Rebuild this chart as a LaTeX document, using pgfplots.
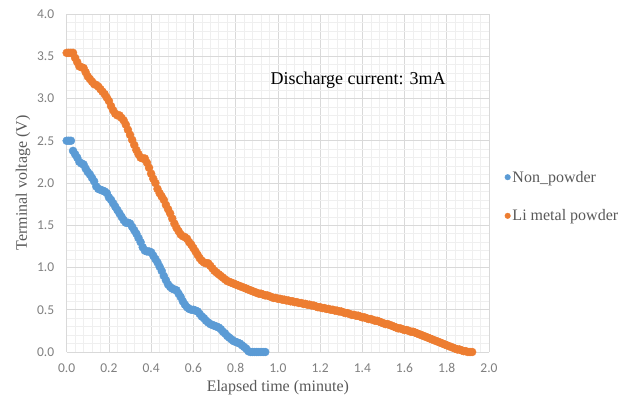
\documentclass[border=0pt]{standalone}
\usepackage{pgfplots}
\pgfplotsset{compat=1.18}
\usepackage{fontspec}
\setmainfont{Liberation Serif}
\newfontfamily\tickfont{Carlito}
\definecolor{cblue}{HTML}{5B9BD5}
\definecolor{corange}{HTML}{ED7D31}
\definecolor{tickgray}{HTML}{7F7F7F}
\definecolor{labgray}{HTML}{595959}
\definecolor{majgrid}{HTML}{D9D9D9}
\definecolor{mingrid}{HTML}{EFEFEF}
\begin{document}
\begin{tikzpicture}
\useasboundingbox (-66.7pt,-46pt) rectangle (561.3pt,352pt);
\begin{axis}[
  scale only axis,
  width=422.3pt, height=338pt,
  xmin=0, xmax=2, ymin=0, ymax=4,
  xtick={0,0.2,...,2.0}, ytick={0,0.5,...,4.0},
  minor x tick num=4, minor y tick num=4,
  grid=both,
  major grid style={draw=majgrid, line width=0.6pt},
  minor grid style={draw=mingrid, line width=0.5pt},
  axis line style={draw=none},
  major tick length=0pt, minor tick length=0pt,
  /pgf/number format/assume math mode=true,
  xticklabel style={/pgf/number format/.cd, fixed, fixed zerofill, precision=1},
  yticklabel style={/pgf/number format/.cd, fixed, fixed zerofill, precision=1},
  tick label style={font=\tickfont\fontsize{13.5}{14}\selectfont, text=tickgray},
  xticklabel shift=8pt,
  yticklabel shift=9pt,
  xlabel={Elapsed time (minute)},
  ylabel={Terminal voltage (V)},
  label style={font=\fontsize{16}{18}\selectfont, text=labgray},
  xlabel style={yshift=-1pt},
  ylabel style={yshift=0pt},
  legend style={at={(axis description cs:1.03,0.46)}, anchor=west, draw=none,
    font=\fontsize{16}{18}\selectfont, text=labgray, row sep=22pt, fill=none},
  legend cell align=left,
  legend image code/.code={\draw[#1, mark size=2.8pt] plot coordinates {(0.12cm,0cm)};},
  clip=false,
]
\addplot[only marks, mark=*, mark size=4pt, mark options={draw=none, fill=cblue}, color=cblue] table {
x y
0.00 2.50
0.01 2.50
0.02 2.50
0.03 2.38
0.04 2.34
0.05 2.30
0.06 2.25
0.07 2.23
0.08 2.22
0.09 2.17
0.10 2.13
0.11 2.10
0.12 2.06
0.13 2.02
0.14 1.96
0.15 1.93
0.16 1.92
0.17 1.91
0.18 1.90
0.19 1.88
0.20 1.83
0.21 1.80
0.22 1.76
0.23 1.72
0.24 1.68
0.25 1.64
0.26 1.60
0.27 1.56
0.28 1.53
0.29 1.53
0.30 1.52
0.31 1.48
0.32 1.44
0.33 1.40
0.34 1.35
0.35 1.30
0.36 1.24
0.37 1.20
0.38 1.19
0.39 1.19
0.40 1.18
0.41 1.14
0.42 1.10
0.43 1.06
0.44 1.01
0.45 0.96
0.46 0.90
0.47 0.85
0.48 0.80
0.49 0.77
0.50 0.75
0.51 0.74
0.52 0.73
0.53 0.69
0.54 0.65
0.55 0.60
0.56 0.56
0.57 0.53
0.58 0.51
0.59 0.50
0.60 0.50
0.61 0.49
0.62 0.48
0.63 0.45
0.64 0.42
0.65 0.40
0.66 0.37
0.67 0.35
0.68 0.33
0.69 0.32
0.70 0.31
0.71 0.30
0.72 0.29
0.73 0.27
0.74 0.24
0.75 0.22
0.76 0.19
0.77 0.17
0.78 0.15
0.79 0.13
0.80 0.12
0.81 0.11
0.82 0.10
0.83 0.08
0.84 0.06
0.85 0.04
0.86 0.01
0.87 0.00
0.88 0.00
0.89 0.00
0.90 0.00
0.91 0.00
0.92 0.00
0.93 0.00
0.94 0.00
};
\addlegendentry{Non\_powder}
\addplot[only marks, mark=*, mark size=4pt, mark options={draw=none, fill=corange}, color=corange] table {
x y
0.00 3.54
0.01 3.54
0.02 3.54
0.03 3.54
0.04 3.48
0.05 3.43
0.06 3.38
0.07 3.37
0.08 3.36
0.09 3.31
0.10 3.26
0.11 3.23
0.12 3.20
0.13 3.17
0.14 3.16
0.15 3.14
0.16 3.11
0.17 3.08
0.18 3.05
0.19 3.01
0.20 2.97
0.21 2.91
0.22 2.86
0.23 2.82
0.24 2.80
0.25 2.80
0.26 2.77
0.27 2.74
0.28 2.69
0.29 2.63
0.30 2.57
0.31 2.51
0.32 2.45
0.33 2.39
0.34 2.34
0.35 2.30
0.36 2.29
0.37 2.29
0.38 2.24
0.39 2.18
0.40 2.11
0.41 2.05
0.42 2.00
0.43 1.93
0.44 1.88
0.45 1.84
0.46 1.80
0.47 1.74
0.48 1.69
0.49 1.64
0.50 1.58
0.51 1.52
0.52 1.47
0.53 1.43
0.54 1.39
0.55 1.37
0.56 1.36
0.57 1.34
0.58 1.30
0.59 1.27
0.60 1.23
0.61 1.19
0.62 1.15
0.63 1.11
0.64 1.08
0.65 1.06
0.66 1.05
0.67 1.05
0.68 1.02
0.69 0.99
0.70 0.96
0.71 0.94
0.72 0.92
0.73 0.90
0.74 0.88
0.75 0.86
0.76 0.84
0.77 0.83
0.78 0.82
0.79 0.81
0.80 0.80
0.81 0.79
0.82 0.78
0.83 0.77
0.84 0.76
0.85 0.75
0.86 0.74
0.87 0.73
0.88 0.72
0.89 0.71
0.90 0.70
0.91 0.69
0.92 0.69
0.93 0.68
0.94 0.67
0.95 0.67
0.96 0.66
0.97 0.65
0.98 0.64
0.99 0.64
1.00 0.63
1.01 0.63
1.02 0.62
1.03 0.62
1.04 0.61
1.05 0.61
1.06 0.60
1.07 0.60
1.08 0.59
1.09 0.59
1.10 0.58
1.11 0.58
1.12 0.57
1.13 0.57
1.14 0.56
1.15 0.56
1.16 0.55
1.17 0.55
1.18 0.54
1.19 0.53
1.20 0.53
1.21 0.52
1.22 0.52
1.23 0.51
1.24 0.51
1.25 0.50
1.26 0.50
1.27 0.49
1.28 0.49
1.29 0.48
1.30 0.48
1.31 0.47
1.32 0.46
1.33 0.46
1.34 0.45
1.35 0.44
1.36 0.44
1.37 0.43
1.38 0.43
1.39 0.42
1.40 0.41
1.41 0.41
1.42 0.40
1.43 0.39
1.44 0.39
1.45 0.38
1.46 0.37
1.47 0.37
1.48 0.36
1.49 0.35
1.50 0.34
1.51 0.33
1.52 0.33
1.53 0.32
1.54 0.31
1.55 0.30
1.56 0.29
1.57 0.28
1.58 0.28
1.59 0.27
1.60 0.26
1.61 0.26
1.62 0.25
1.63 0.24
1.64 0.24
1.65 0.23
1.66 0.22
1.67 0.21
1.68 0.20
1.69 0.19
1.70 0.18
1.71 0.17
1.72 0.16
1.73 0.15
1.74 0.14
1.75 0.13
1.76 0.12
1.77 0.11
1.78 0.10
1.79 0.09
1.80 0.08
1.81 0.07
1.82 0.06
1.83 0.05
1.84 0.04
1.85 0.03
1.86 0.03
1.87 0.02
1.88 0.01
1.89 0.01
1.90 0.00
1.91 0.00
1.92 0.00
};
\addlegendentry{Li metal powder}
\node[font=\fontsize{18}{20}\selectfont, text=black] at (axis cs:1.38,3.22) {Discharge current: 3mA};
\end{axis}
\end{tikzpicture}
\end{document}
